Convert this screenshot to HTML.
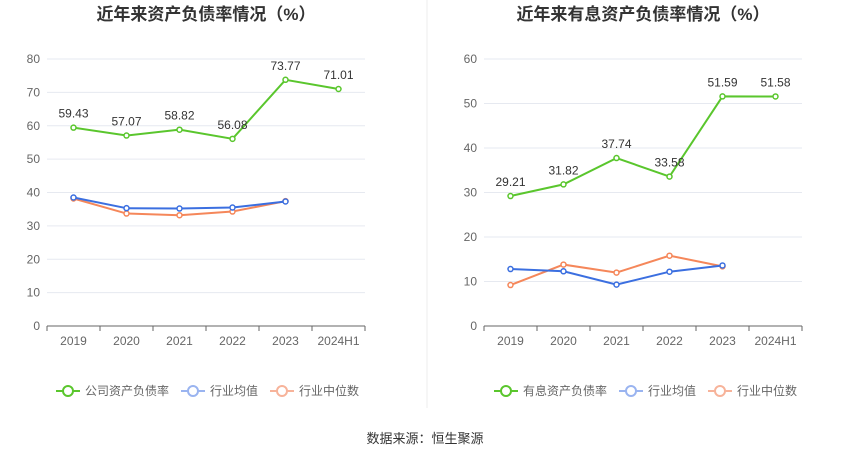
<!DOCTYPE html>
<html><head><meta charset="utf-8"><style>
body{margin:0;background:#fff;width:850px;height:459px;overflow:hidden;font-family:"Liberation Sans","Noto Sans CJK SC",sans-serif}
svg text{font-family:"Liberation Sans","Noto Sans CJK SC",sans-serif}
</style></head><body>
<svg id="s" width="850" height="459">
<line x1="427" y1="0" x2="427" y2="408" stroke="#eee"/>
<text x="425" y="443" text-anchor="middle" font-size="13" fill="#333">数据来源：恒生聚源</text>
</svg>
<script>
const categories=["2019","2020","2021","2022","2023","2024H1"];
const leftMain=[59.43,57.07,58.82,56.08,73.77,71.01];
const leftAvg=[38.5,35.3,35.2,35.5,37.3];
const leftMed=[38.2,33.7,33.2,34.3,37.4];
const leftTicks=[0,10,20,30,40,50,60,70,80];
const rightMain=[29.21,31.82,37.74,33.58,51.59,51.58];
const rightAvg=[12.8,12.3,9.3,12.2,13.6];
const rightMed=[9.2,13.8,12.0,15.8,13.4];
const rightTicks=[0,10,20,30,40,50,60];
const NS="http://www.w3.org/2000/svg";
const svg=document.getElementById('s');
function mk(t,a,p){const e=document.createElementNS(NS,t);for(const k in a)e.setAttribute(k,a[k]);(p||svg).appendChild(e);return e;}
function panel(o){
  const g=mk('g',{});
  
  
  const x0=o.x0,x1=o.x1,yb=326,yt=59,max=o.ticks[o.ticks.length-1];
  const y=v=>yb-(v/max)*(yb-yt);
  const step=(x1-x0)/categories.length;
  const x=i=>x0+step*(i+0.5);
  const t=mk('text',{x:(x0+x1)/2,y:20,'text-anchor':'middle','font-size':17,'font-weight':'bold',fill:'#333'},g);t.textContent=o.title;
  
  
  o.ticks.forEach(v=>{
    if(v>0)mk('line',{x1:x0,x2:x1,y1:y(v),y2:y(v),stroke:'#e6e9f0'},g);
    const l=mk('text',{x:x0-7,y:y(v)+4,'text-anchor':'end','font-size':12,fill:'#666'},g);l.textContent=v;
    
    
  });
  mk('line',{x1:x0,x2:x1,y1:yb,y2:yb,stroke:'#666'},g);
  categories.forEach((c,i)=>{
    mk('line',{x1:x0+step*i,x2:x0+step*i,y1:yb,y2:yb+5,stroke:'#666'},g);
    const l=mk('text',{x:x(i),y:yb+19,'text-anchor':'middle','font-size':12,fill:'#666'},g);l.textContent=c;
    
    
  });
  mk('line',{x1:x1,x2:x1,y1:yb,y2:yb+5,stroke:'#666'},g);
  const series=[[o.med,'#f5875a','median'],[o.avg,'#3b6fe0','average'],[o.main,'#5ac62d','main']];
  series.forEach(([d,c,n])=>{
    const p=mk('polyline',{points:d.map((v,i)=>x(i)+','+y(v)).join(' '),fill:'none',stroke:c,'stroke-width':2},g);
    
    
    d.forEach((v,i)=>{
      const pt=mk('circle',{cx:x(i),cy:y(v),r:2.5,fill:'#fff',stroke:c,'stroke-width':1.5},g);
      
      
      if(n==='main'){const l=mk('text',{x:x(i),y:y(v)-10,'text-anchor':'middle','font-size':12,fill:'#333'},g);l.textContent=v.toFixed(2);
        
        }
    });
  });
  const lx=o.lx,ly=391;
  [[o.legend,'#5ac62d',0],['行业均值','#9ab4f0',125],['行业中位数','#f7b39a',214]].forEach(([txt,c,dx])=>{
    const lg=mk('g',{},g);
    
    
    mk('line',{x1:lx+dx,x2:lx+dx+24,y1:ly,y2:ly,stroke:c,'stroke-width':2},lg);
    mk('circle',{cx:lx+dx+12,cy:ly,r:5,fill:'#fff',stroke:c,'stroke-width':2},lg);
    const l=mk('text',{x:lx+dx+29,y:ly+4,'font-size':12,fill:'#666'},lg);l.textContent=txt;
  });
}
panel({name:'left-chart',title:'近年来资产负债率情况（%）',x0:47,x1:365,ticks:leftTicks,main:leftMain,avg:leftAvg,med:leftMed,legend:'公司资产负债率',lx:56});
panel({name:'right-chart',title:'近年来有息资产负债率情况（%）',x0:484,x1:802,ticks:rightTicks,main:rightMain,avg:rightAvg,med:rightMed,legend:'有息资产负债率',lx:494});
</script>
</body></html>
